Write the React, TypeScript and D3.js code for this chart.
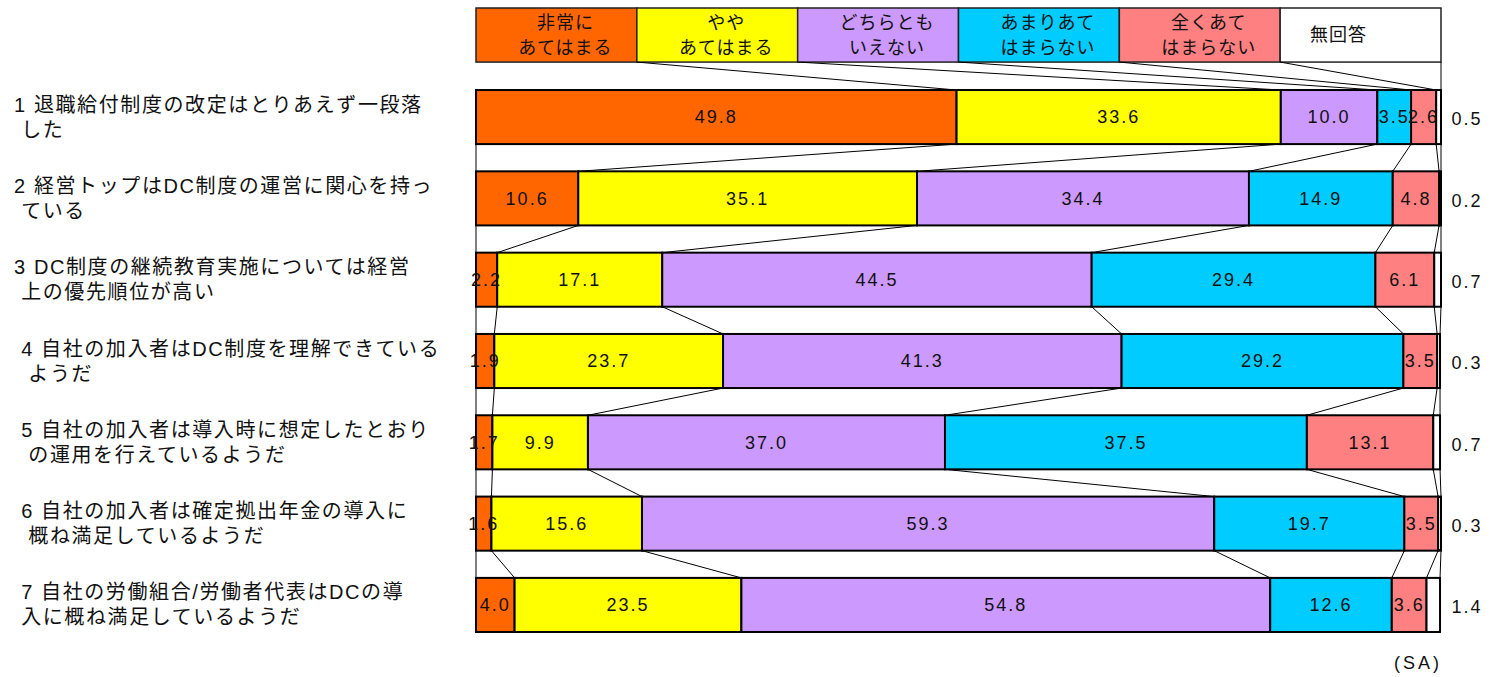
import React from "react";
import * as d3 from "d3";

// series (legend) names, two lines each
const seriesNames = [
  ["非常に", "あてはまる"],
  ["やや", "あてはまる"],
  ["どちらとも", "いえない"],
  ["あまりあて", "はまらない"],
  ["全くあて", "はまらない"],
  ["無回答", ""],
];
const seriesColors = ["#FF6600", "#FFFF00", "#CC99FF", "#00CCFF", "#FF8080", "#FFFFFF"];

// category labels, two lines each
const categories = [
  ["1 退職給付制度の改定はとりあえず一段落", " した"],
  ["2 経営トップはDC制度の運営に関心を持っ", " ている"],
  ["3 DC制度の継続教育実施については経営", " 上の優先順位が高い"],
  [" 4 自社の加入者はDC制度を理解できている", "  ようだ"],
  [" 5 自社の加入者は導入時に想定したとおり", "  の運用を行えているようだ"],
  [" 6 自社の加入者は確定拠出年金の導入に", "  概ね満足しているようだ"],
  [" 7 自社の労働組合/労働者代表はDCの導", " 入に概ね満足しているようだ"],
];

const verySo = [49.8, 10.6, 2.2, 1.9, 1.7, 1.6, 4.0];
const somewhatSo = [33.6, 35.1, 17.1, 23.7, 9.9, 15.6, 23.5];
const neither = [10.0, 34.4, 44.5, 41.3, 37.0, 59.3, 54.8];
const notReally = [3.5, 14.9, 29.4, 29.2, 37.5, 19.7, 12.6];
const notAtAll = [2.6, 4.8, 6.1, 3.5, 13.1, 3.5, 3.6];
const noAnswer = [0.5, 0.2, 0.7, 0.3, 0.7, 0.3, 1.4];

const seriesValues = [verySo, somewhatSo, neither, notReally, notAtAll, noAnswer];

const W = 1495;
const H = 677;
const jpFont = "'Liberation Sans', 'Noto Sans CJK JP', sans-serif";
const numFont = "'Liberation Sans', Arial, sans-serif";

export default function App() {
  const x = d3.scaleLinear().domain([0, 100]).range([476, 1441]);
  const rowIds = categories.map((_, i) => String(i));
  const y = d3.scaleBand().domain(rowIds).range([76.4, 645.6]).paddingInner(0.335).paddingOuter(0.1675);
  const bh = y.bandwidth();
  const legendX = d3.scaleBand().domain(seriesNames.map((_, i) => String(i))).range([476, 1441]);
  const legendTop = 8;

  // cumulative boundaries per row
  const rows = categories.map((_, r) => {
    const vals = seriesValues.map((s) => s[r]);
    const ends = d3.cumsum(vals);
    const starts = [0, ...Array.from(ends).slice(0, -1)];
    return vals.map((v, k) => ({ v, x0: starts[k], x1: ends[k] }));
  });

  const connectors: { x1: number; y1: number; x2: number; y2: number }[] = [];
  // legend to first bar
  seriesNames.forEach((_, k) => {
    connectors.push({
      x1: legendX(String(k))! + legendX.bandwidth(),
      y1: legendTop + bh,
      x2: x(rows[0][k].x1),
      y2: y("0")!,
    });
  });
  // bar to bar
  for (let r = 0; r < rows.length - 1; r++) {
    connectors.push({ x1: x(0), y1: y(String(r))! + bh, x2: x(0), y2: y(String(r + 1))! });
    rows[r].forEach((seg, k) => {
      connectors.push({
        x1: x(seg.x1),
        y1: y(String(r))! + bh,
        x2: x(rows[r + 1][k].x1),
        y2: y(String(r + 1))!,
      });
    });
  }

  return (
    <svg width={W} height={H} style={{ position: "absolute", left: 0, top: 0, background: "#fff" }}>
      {/* legend */}
      {seriesNames.map((name, k) => {
        const lx = legendX(String(k))!;
        const cx = lx + legendX.bandwidth() / 2;
        const cy = legendTop + bh / 2;
        return (
          <g key={"lg" + k}>
            <rect x={lx} y={legendTop} width={legendX.bandwidth()} height={bh}
              fill={seriesColors[k]} stroke="#222" strokeWidth={1.5} />
            {name[1] === "" ? (
              <text x={cx - 22} y={cy} dy="0.35em" textAnchor="middle" fontFamily={jpFont} fontSize={18}
                letterSpacing={1} fill="#111">
                {name[0]}
              </text>
            ) : (
              <text textAnchor="middle" fontFamily={jpFont} fontSize={18} letterSpacing={1} fill="#111">
                <tspan x={cx + 9} y={cy - 12.5} dy="0.35em">{name[0]}</tspan>
                <tspan x={cx + 9} y={cy + 12.5} dy="0.35em">{name[1]}</tspan>
              </text>
            )}
          </g>
        );
      })}

      {/* connector lines */}
      {connectors.map((c, i) => (
        <line key={"cn" + i} x1={c.x1} y1={c.y1} x2={c.x2} y2={c.y2} stroke="#000" strokeWidth={1} />
      ))}

      {/* bars */}
      {rows.map((segs, r) => {
        const top = y(String(r))!;
        const cy = top + bh / 2;
        return (
          <g key={"row" + r}>
            {segs.map((seg, k) => (
              <rect key={"s" + k} x={x(seg.x0)} y={top} width={x(seg.x1) - x(seg.x0)} height={bh}
                fill={seriesColors[k]} stroke="#000" strokeWidth={2} />
            ))}
            {segs.slice(0, 5).map((seg, k) => (
              <text key={"t" + k} x={(x(seg.x0) + x(seg.x1)) / 2} y={cy} dy="0.35em" textAnchor="middle"
                fontFamily={numFont} fontSize={18} letterSpacing={2} fill="#111">
                {seg.v.toFixed(1)}
              </text>
            ))}
            <text x={1467} y={cy + 2} dy="0.35em" textAnchor="middle" fontFamily={numFont} fontSize={18}
              letterSpacing={2} fill="#111">
              {segs[5].v.toFixed(1)}
            </text>
            <text fontFamily={jpFont} fontSize={20} letterSpacing={1.6} fill="#111" style={{ whiteSpace: "pre" }}>
              {categories[r].map((line, li) => (
                <tspan key={"c" + li} x={14} y={cy + (li === 0 ? -12.5 : 12.5)} dy="0.35em">
                  {line}
                </tspan>
              ))}
            </text>
          </g>
        );
      })}

      <text x={1418} y={663} dy="0.35em" textAnchor="middle" fontFamily={numFont} fontSize={18}
        letterSpacing={3} fill="#111">
        (SA)
      </text>
    </svg>
  );
}
